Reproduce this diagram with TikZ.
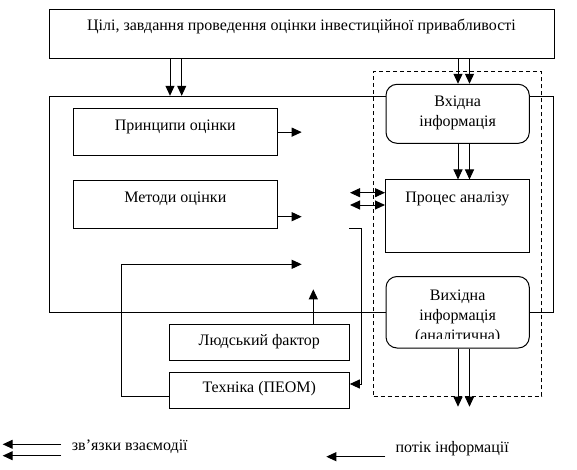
\documentclass[tikz,border=0pt]{standalone}
\usepackage{fontspec}
\setmainfont{Liberation Serif}
\usetikzlibrary{arrows.meta,calc}
\begin{document}
\begin{tikzpicture}[x=1pt,y=-1pt,
  every node/.style={font=\fontsize{16}{20}\selectfont},
  box/.style={draw, line width=1pt, fill=white, inner sep=0pt},
  rbox/.style={box, rounded corners=11pt},
  lbl/.style={anchor=base, inner sep=0pt},
  ln/.style={line width=1pt},
  arr/.style={ln, -{Triangle[length=10pt,width=9pt]}},
  barr/.style={ln, {Triangle[length=10pt,width=9pt]}-{Triangle[length=10pt,width=9pt]}},
]
\useasboundingbox (0,0) rectangle (577,470);

% frame and dashed area
\node[draw, line width=1pt, inner sep=0pt, minimum width=504pt, minimum height=216pt] (frame) at (301,204.3) {};
\node[draw, line width=1pt, dash pattern=on 4pt off 3pt, inner sep=0pt, minimum width=168.3pt, minimum height=324pt] (dash) at (457.65,234) {};

% boxes
\node[box, minimum width=505pt, minimum height=48.3pt] (top) at (301.5,34.15) {};
\node[rbox, minimum width=143.3pt, minimum height=59pt] (inb) at (457.65,113.8) {};
\node[box, minimum width=143.8pt, minimum height=72.3pt] (proc) at (457.4,216.15) {};
\node[rbox, minimum width=143.3pt, minimum height=71.5pt] (outb) at (457.65,312.25) {};
\node[box, minimum width=204pt, minimum height=47.7pt] (prin) at (175.3,132.15) {};
\node[box, minimum width=204pt, minimum height=47.8pt] (met) at (175.3,204.4) {};
\node[box, minimum width=180pt, minimum height=36pt] (lud) at (259.3,342.3) {};
\node[box, minimum width=180pt, minimum height=35.7pt] (tech) at (259.3,390.15) {};

% texts
\node[lbl] (ttop) at (301.5,31) {Цілі, завдання проведення оцінки інвестиційної привабливості};
\node[lbl] (tprin) at (175.3,130.7) {Принципи оцінки};
\node[lbl] (tmet) at (175.3,202.3) {Методи оцінки};
\node[lbl] (tin1) at (457.65,106.7) {Вхідна};
\node[lbl] (tin2) at (457.65,126.7) {інформація};
\node[lbl] (tproc) at (457.4,202.3) {Процес аналізу};
\node[lbl] (tout1) at (457.65,300) {Вихідна};
\node[lbl] (tout2) at (457.65,320) {інформація};
\begin{scope}
  \clip (387,300) rectangle (528,338.5);
  \node[lbl] (tout3) at (457.65,340.5) {(аналітична)};
\end{scope}
\node[lbl] (tlud) at (259.3,345) {Людський фактор};
\node[lbl] (ttech) at (259.3,392.3) {Техніка (ПЕОМ)};
\node[lbl, anchor=base west] (leg1) at (71.7,450) {зв’язки взаємодії};
\node[lbl, anchor=base west] (leg2) at (395.3,452.7) {потік інформації};

% helper coordinates
\coordinate (xa) at (170,0);
\coordinate (xb) at (181.7,0);
\coordinate (xc) at (458,0);
\coordinate (xd) at (469.5,0);
\coordinate (outend) at (0,406.7);
\coordinate (mid) at (301.7,0);
\coordinate (ym) at (0,216.7);
\coordinate (bl) at (350,192.7);
\coordinate (bl2) at (350,205);
\coordinate (hs) at (349.3,228.3);
\coordinate (xv) at (361,0);
\coordinate (yt) at (0,384);
\coordinate (xf) at (121.7,0);
\coordinate (yf) at (0,264.3);
\coordinate (ytw) at (0,396.3);
\coordinate (xl) at (313.3,0);
\coordinate (yl) at (0,289.3);
\coordinate (l1s) at (61,444.3);
\coordinate (l1e) at (2.7,444.3);
\coordinate (l2s) at (61,455.7);
\coordinate (l2e) at (2.7,455.7);
\coordinate (l3s) at (385.3,456.7);
\coordinate (l3e) at (326.3,456.7);

% connectors
\draw[arr] (top.south -| xa) -- (frame.north -| xa);
\draw[arr] (top.south -| xb) -- (frame.north -| xb);
\draw[arr] (top.south -| xc) -- (inb.north -| xc);
\draw[arr] (top.south -| xd) -- (inb.north -| xd);
\draw[arr] (inb.south -| xc) -- (proc.north -| xc);
\draw[arr] (inb.south -| xd) -- (proc.north -| xd);
\draw[arr] (outb.south -| xc) -- (outend -| xc);
\draw[arr] (outb.south -| xd) -- (outend -| xd);
\draw[arr] (prin.east) -- (prin.east -| mid);
\draw[arr] (met.east |- ym) -- (mid |- ym);
\draw[barr] (bl) -- (proc.west |- bl);
\draw[barr] (bl2) -- (proc.west |- bl2);
\draw[arr] (hs) -| (xv |- yt) -- (tech.east |- yt);
\draw[arr] (tech.west |- ytw) -| (xf |- yf) -- (mid |- yf);
\draw[arr] (lud.north -| xl) -- (xl |- yl);
\draw[arr] (l1s) -- (l1e);
\draw[arr] (l2s) -- (l2e);
\draw[arr] (l3s) -- (l3e);
\end{tikzpicture}
\end{document}
